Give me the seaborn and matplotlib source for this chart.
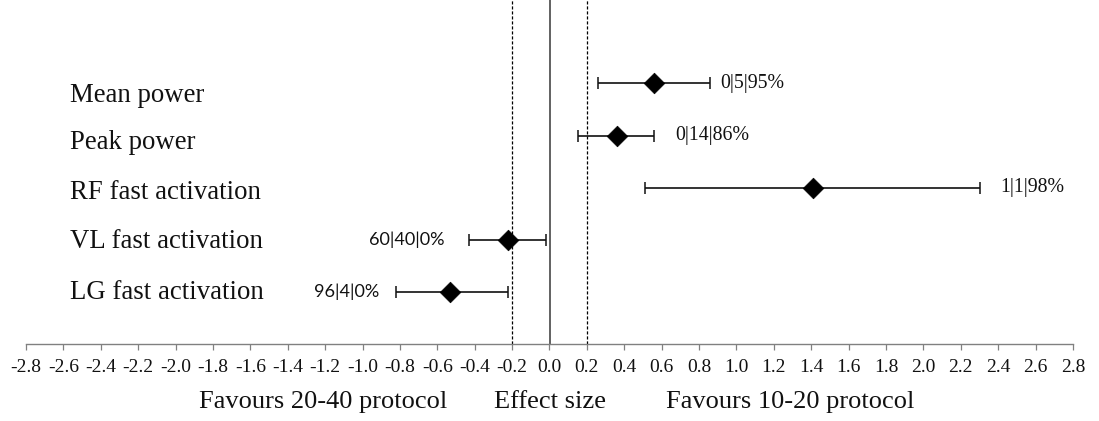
import matplotlib
matplotlib.use("Agg")
import matplotlib.pyplot as plt
import matplotlib.ticker as mticker
import numpy as np
import pandas as pd
import seaborn as sns

# values
outcomes = ["Mean power", "Peak power", "RF fast activation",
            "VL fast activation", "LG fast activation"]
effect = [0.56, 0.36, 1.41, -0.22, -0.53]
ci_low = [0.26, 0.155, 0.51, -0.43, -0.82]
ci_high = [0.86, 0.56, 2.30, -0.02, -0.22]
chances = ["0|5|95%", "0|14|86%", "1|1|98%", "60|40|0%", "96|4|0%"]

# gap (points) between whisker cap and the chances text
label_gap = [7, 15, 15, 18, 12]
# outcome names sit a little below their row (points)
name_drop = [8.6, 5.0, 3.6, 1.4, 0.7]

df = pd.DataFrame({"outcome": outcomes, "effect": effect,
                   "low": ci_low, "high": ci_high, "chances": chances})
df["row"] = len(df) - np.arange(len(df))

sns.set_theme(style="white")
plt.rcParams["font.family"] = ["Liberation Serif", "DejaVu Serif"]
plt.rcParams["axes.unicode_minus"] = False

fig = plt.figure(figsize=(10.99, 4.21), dpi=100)
ax = fig.add_axes([26 / 1099, 77 / 421, 1047 / 1099, 344 / 421])

# reference lines
ax.axvline(0, color="#555555", lw=1.3, zorder=1)
for v in (-0.2, 0.2):
    ax.axvline(v, color="black", lw=0.9, ls=(0, (2.5, 1.5)), zorder=1)

ax.errorbar(df["effect"], df["row"],
            xerr=[df["effect"] - df["low"], df["high"] - df["effect"]],
            fmt="none", ecolor="#111111", elinewidth=1.2, capsize=4.3,
            capthick=1.1, zorder=2)
sns.scatterplot(data=df, x="effect", y="row", marker="D", s=110,
                color="black", edgecolor="black", linewidth=0.5,
                ax=ax, zorder=3, legend=False)

name_tf = matplotlib.transforms.blended_transform_factory(fig.transFigure,
                                                          ax.transData)
for i, r in df.iterrows():
    if r["effect"] >= 0:
        ax.annotate(r["chances"], (r["high"], r["row"]),
                    xytext=(label_gap[i], 0), textcoords="offset points",
                    ha="left", va="center", fontsize=14.3,
                    family=["Liberation Serif"], color="#111111")
    else:
        ax.annotate(r["chances"], (r["low"], r["row"]),
                    xytext=(-label_gap[i], 0), textcoords="offset points",
                    ha="right", va="center", fontsize=13,
                    family=["Lato", "DejaVu Sans"], color="#111111")
    # outcome names on the left
    ax.annotate(r["outcome"], (70 / 1099, r["row"]), xycoords=name_tf,
                xytext=(0, -name_drop[i]), textcoords="offset points",
                ha="left", va="center", fontsize=19.3, color="#111111")

ax.set_xlim(-2.8, 2.8)
ax.set_ylim(0, 6.6)
ax.xaxis.set_major_locator(mticker.MultipleLocator(0.2))
ax.xaxis.set_major_formatter(mticker.FuncFormatter(
    lambda v, p: "{:.1f}".format(v + 0.0).replace("-0.0", "0.0")))
ax.set_yticks([])
for side in ("top", "right", "left"):
    ax.spines[side].set_visible(False)
ax.spines["bottom"].set_color("#808080")
ax.spines["bottom"].set_linewidth(1.0)
ax.tick_params(axis="x", direction="out", length=4, width=0.9,
               color="#808080", labelsize=14, labelcolor="#111111", pad=7,
               bottom=True)
ax.set_xlabel("")
ax.set_ylabel("")

# axis captions
xt = ax.get_xaxis_transform()
ax.text(-1.21, -0.168, "Favours 20-40 protocol", transform=xt,
        ha="center", va="center", fontsize=19, color="#111111")
ax.text(0.0, -0.168, "Effect size", transform=xt,
        ha="center", va="center", fontsize=19, color="#111111")
ax.text(1.29, -0.168, "Favours 10-20 protocol", transform=xt,
        ha="center", va="center", fontsize=19, color="#111111")

fig.savefig("out.png", dpi=100, facecolor="white")
